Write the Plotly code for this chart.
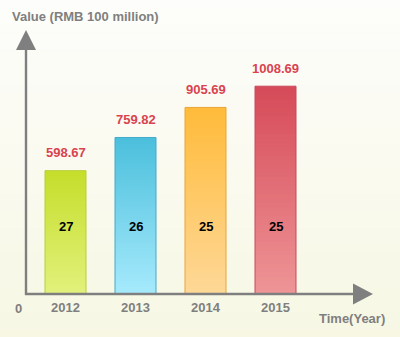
import plotly.graph_objects as go

# Data
years = ["2012", "2013", "2014", "2015"]
values = [598.67, 759.82, 905.69, 1008.69]
inner_labels = ["27", "26", "25", "25"]

# Per-bar gradient colours (top, bottom) and outline colours
top_colors = ["#c5de2b", "#4bbfdc", "#ffbb3a", "#d64a58"]
bottom_colors = ["#e2f17c", "#a6eafc", "#fed898", "#ee9597"]
edge_colors = ["#b9cf35", "#43aacb", "#eaa535", "#c9495a"]

W, H = 400, 337
L, R, T, B = 26, 27, 30, 43
PW, PH = W - L - R, H - T - B
PX_PER_UNIT = 0.206
YMAX = PH / PX_PER_UNIT
SLOT = 70.0
X_LEFT = -(65.5 - L) / SLOT
X_RIGHT = X_LEFT + PW / SLOT
BAR_W = 41 / SLOT
N_SEG = 48

GREY = "#7f7f7f"
FONT = "Liberation Sans, Arial, sans-serif"


def hex_to_rgb(h):
    h = h.lstrip("#")
    return tuple(int(h[i:i + 2], 16) for i in (0, 2, 4))


def mix(c1, c2, t):
    a, b = hex_to_rgb(c1), hex_to_rgb(c2)
    return "rgb(%d,%d,%d)" % tuple(round(a[i] + (b[i] - a[i]) * t) for i in range(3))


def px_x(px):
    return (px - L) / PW


def px_y(py):
    return (H - B - py) / PH


fig = go.Figure()

# Gradient bars: nested bars from the full value down to small fractions,
# each shorter one drawn over the previous with a lighter colour
for i, (yr, v) in enumerate(zip(years, values)):
    for k in range(N_SEG):
        frac = (N_SEG - k) / N_SEG
        fig.add_trace(go.Bar(
            x=[i], y=[v * frac], width=BAR_W,
            marker=dict(color=mix(bottom_colors[i], top_colors[i], frac - 0.5 / N_SEG),
                        line=dict(width=0)),
            hoverinfo="skip", showlegend=False,
        ))

# Outline of each bar
fig.add_trace(go.Bar(
    x=list(range(len(years))), y=values, width=BAR_W,
    marker=dict(color="rgba(0,0,0,0)", line=dict(color=edge_colors, width=1)),
    customdata=years, hovertemplate="%{customdata}: %{y}<extra></extra>",
    showlegend=False,
))

# Background gradient bands
shapes = []
N_BG = 40
for k in range(N_BG):
    y0 = k / N_BG
    y1 = (k + 1) / N_BG
    shapes.append(dict(
        type="rect", xref="paper", yref="paper", layer="below",
        x0=px_x(-5), x1=px_x(W + 5),
        y0=px_y(H - y0 * H) if k else px_y(H + 5),
        y1=px_y(H - y1 * H) if k < N_BG - 1 else px_y(-5),
        fillcolor=mix("#f7f7e4", "#fdfdfb", (k + 0.5) / N_BG),
        line=dict(width=0),
    ))

# Axis lines with arrow heads
axis_y = H - B
shapes.append(dict(type="line", xref="paper", yref="paper",
                   x0=px_x(26), x1=px_x(26), y0=px_y(axis_y + 1), y1=px_y(48),
                   line=dict(color=GREY, width=2.4)))
shapes.append(dict(type="line", xref="paper", yref="paper",
                   x0=px_x(25), x1=px_x(355), y0=px_y(axis_y), y1=px_y(axis_y),
                   line=dict(color=GREY, width=2.4)))
up = "M %f,%f L %f,%f L %f,%f Z" % (
    px_x(16), px_y(50), px_x(26), px_y(30), px_x(36), px_y(50))
right = "M %f,%f L %f,%f L %f,%f Z" % (
    px_x(353), px_y(axis_y - 10.5), px_x(373), px_y(axis_y), px_x(353), px_y(axis_y + 10.5))
shapes.append(dict(type="path", xref="paper", yref="paper", path=up,
                   fillcolor=GREY, line=dict(width=0)))
shapes.append(dict(type="path", xref="paper", yref="paper", path=right,
                   fillcolor=GREY, line=dict(width=0)))

annotations = []
for i, (yr, v) in enumerate(zip(years, values)):
    # value above the bar
    annotations.append(dict(x=i, y=v, xref="x", yref="y", text="<b>%.2f</b>" % v,
                            showarrow=False, xanchor="center", yanchor="middle", yshift=18,
                            font=dict(family=FONT, size=13, color="#d9434f")))
    # number inside the bar
    annotations.append(dict(x=i, y=px_y(226), xref="x", yref="paper",
                            text="<b>%s</b>" % inner_labels[i], showarrow=False,
                            xanchor="center", yanchor="middle",
                            font=dict(family=FONT, size=13, color="#000000")))
    # category label under the axis
    annotations.append(dict(x=i, y=px_y(307), xref="x", yref="paper",
                            text="<b>%s</b>" % yr, showarrow=False,
                            xanchor="center", yanchor="middle",
                            font=dict(family=FONT, size=13, color=GREY)))

annotations.append(dict(x=px_x(18.5), y=px_y(308), xref="paper", yref="paper",
                        text="<b>0</b>", showarrow=False,
                        xanchor="center", yanchor="middle",
                        font=dict(family=FONT, size=13, color=GREY)))
annotations.append(dict(x=px_x(10), y=px_y(17), xref="paper", yref="paper",
                        text="<b>Value (RMB 100 million)</b>", showarrow=False,
                        xanchor="left", yanchor="middle",
                        font=dict(family=FONT, size=13, color=GREY)))
annotations.append(dict(x=px_x(387), y=px_y(318), xref="paper", yref="paper",
                        text="<b>Time(Year)</b>", showarrow=False,
                        xanchor="right", yanchor="middle",
                        font=dict(family=FONT, size=13, color=GREY)))

fig.update_layout(
    width=W, height=H,
    margin=dict(l=L, r=R, t=T, b=B, pad=0),
    barmode="overlay",
    paper_bgcolor="#fbfbf2", plot_bgcolor="rgba(0,0,0,0)",
    xaxis=dict(type="linear", range=[X_LEFT, X_RIGHT], visible=False, fixedrange=True),
    yaxis=dict(range=[0, YMAX], visible=False, fixedrange=True),
    shapes=shapes, annotations=annotations,
    font=dict(family=FONT),
    showlegend=False,
)

fig.write_html("out.html")
